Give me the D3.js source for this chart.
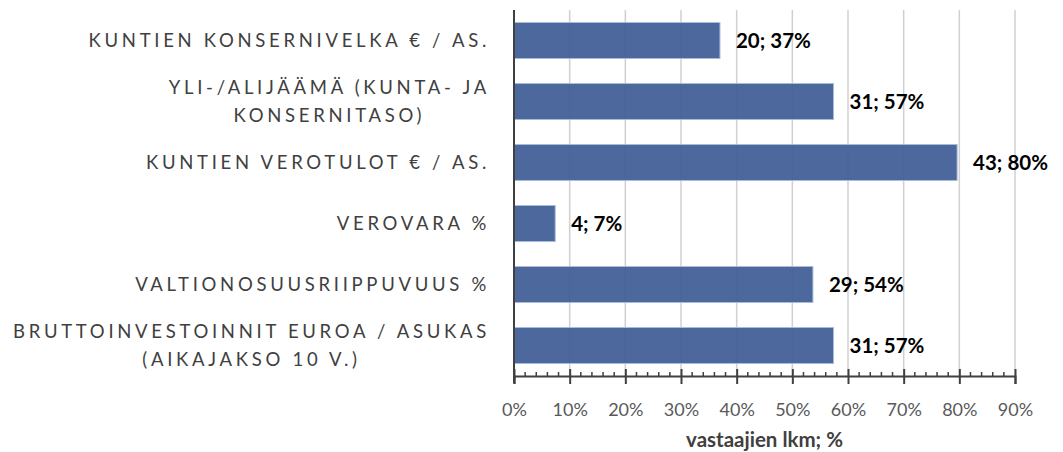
<!DOCTYPE html>
<html>
<head>
<meta charset="utf-8">
<script src="https://cdn.jsdelivr.net/npm/d3@7"></script>
<style>
  body { margin: 0; background: #fff; }
  svg { display: block; font-family: Lato, "Open Sans", sans-serif; }
</style>
</head>
<body>
<svg id="chart" width="1063" height="452"></svg>
<script>
// category labels, one entry per line of text
const categories = [
  ['KUNTIEN KONSERNIVELKA € / AS.'],
  ['YLI-/ALIJÄÄMÄ (KUNTA- JA', 'KONSERNITASO)'],
  ['KUNTIEN VEROTULOT € / AS.'],
  ['VEROVARA %'],
  ['VALTIONOSUUSRIIPPUVUUS %'],
  ['BRUTTOINVESTOINNIT EUROA / ASUKAS', '(AIKAJAKSO 10 V.)']
];
const counts = [20, 31, 43, 4, 29, 31];
const percents = [37.0, 57.4, 79.6, 7.4, 53.7, 57.4];
const xTicks = [0, 10, 20, 30, 40, 50, 60, 70, 80, 90];
const xTitle = 'vastaajien lkm; %';

const margin = { top: 10, right: 48, bottom: 76, left: 514 };
const width = 1063, height = 452;

const svg = d3.select('#chart');

const x = d3.scaleLinear()
  .domain([0, 90])
  .range([margin.left, width - margin.right]);

const y = d3.scaleBand()
  .domain(d3.range(categories.length))
  .range([margin.top, height - margin.bottom])
  .paddingInner(0.41)
  .paddingOuter(0.205);

const axisY = height - margin.bottom;

// gridlines
svg.append('g')
  .selectAll('line')
  .data(xTicks.slice(1))
  .join('line')
  .attr('x1', d => x(d)).attr('x2', d => x(d))
  .attr('y1', margin.top).attr('y2', axisY)
  .attr('stroke', '#d0d0d0')
  .attr('stroke-width', 1.5);

// bars
svg.append('g')
  .selectAll('rect')
  .data(percents)
  .join('rect')
  .attr('x', x(0))
  .attr('y', (d, i) => y(i))
  .attr('width', d => x(d) - x(0))
  .attr('height', y.bandwidth())
  .attr('fill', '#3f5d96')
  .attr('fill-opacity', 0.93)
  .attr('stroke', '#a9bbdb')
  .attr('stroke-width', 1);

// data labels
svg.append('g')
  .selectAll('text')
  .data(percents)
  .join('text')
  .attr('x', d => x(d) + 16)
  .attr('y', (d, i) => y(i) + y.bandwidth() / 2)
  .attr('dy', '0.36em')
  .attr('font-size', 20.5)
  .attr('font-weight', 'bold')
  .attr('fill', '#000')
  .text((d, i) => `${counts[i]}; ${Math.round(d)}%`);

// x axis
const xAxis = d3.axisBottom(x)
  .tickValues(xTicks)
  .tickFormat(d => d + '%')
  .tickSize(8)
  .tickPadding(19);

const gx = svg.append('g')
  .attr('transform', `translate(0,${axisY})`)
  .call(xAxis);
gx.select('.domain').attr('stroke', '#404040').attr('stroke-width', 2);
gx.selectAll('.tick line')
  .attr('y1', -7)
  .attr('stroke', '#404040')
  .attr('stroke-width', 2);
gx.selectAll('.tick text')
  .attr('font-size', 18)
  .attr('font-family', 'Lato, sans-serif')
  .attr('fill', '#595959');

// minor ticks every 2 %
const minor = d3.range(0, 91, 2).filter(d => d % 10 !== 0);
svg.append('g')
  .selectAll('line')
  .data(minor)
  .join('line')
  .attr('x1', d => x(d)).attr('x2', d => x(d))
  .attr('y1', axisY - 4).attr('y2', axisY)
  .attr('stroke', '#404040')
  .attr('stroke-width', 1.5);

// left axis line
svg.append('line')
  .attr('x1', x(0)).attr('x2', x(0))
  .attr('y1', margin.top).attr('y2', axisY + 7)
  .attr('stroke', '#404040')
  .attr('stroke-width', 2);

// category labels
const labelRight = 490;
const lineH = 28;
const cat = svg.append('g')
  .selectAll('text')
  .data(categories)
  .join('text')
  .attr('font-size', 18.5)
  .attr('letter-spacing', 3.7)
  .attr('fill', '#404040')
  .attr('text-anchor', 'middle');

cat.each(function (lines, i) {
  const t = d3.select(this);
  const cy = y(i) + y.bandwidth() / 2;
  const y0 = cy - (lines.length - 1) * lineH / 2;
  lines.forEach((s, j) => {
    t.append('tspan').attr('x', 0).attr('y', y0 + j * lineH).attr('dy', '0.36em').text(s);
  });
});
// right-align the centred block
cat.each(function () {
  const t = d3.select(this);
  const w = this.getBBox().width;
  t.selectAll('tspan').attr('x', labelRight - w / 2);
});

// axis title
svg.append('text')
  .attr('x', (x(0) + x(90)) / 2)
  .attr('y', 440)
  .attr('dy', '0.36em')
  .attr('text-anchor', 'middle')
  .attr('font-size', 20.5)
  .attr('font-weight', 'bold')
  .attr('fill', '#404040')
  .text(xTitle);
</script>
</body>
</html>
